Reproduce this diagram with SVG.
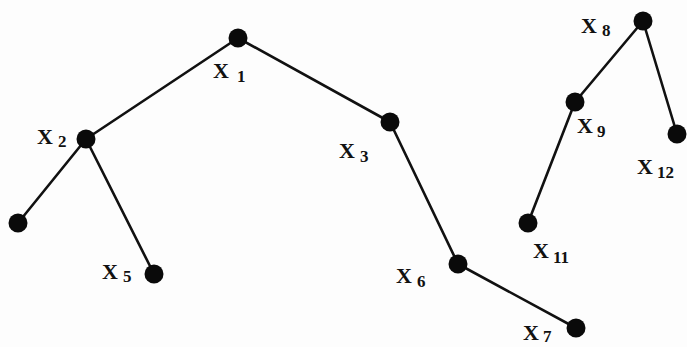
<svg xmlns="http://www.w3.org/2000/svg" width="687" height="347" viewBox="0 0 687 347">
<style>
.edge{stroke:#111;stroke-width:2.6;fill:none;stroke-linecap:round}
.dot{fill:#0a0a0a}
.lbl{font-family:"Liberation Serif","Times New Roman",serif;font-weight:bold;font-size:22px;fill:#111}
.sub{font-size:17px}
</style>
<rect width="687" height="347" fill="#fdfdfd"/>
<g id="connectors">
<line class="edge" x1="238" y1="38" x2="86" y2="139"/>
<line class="edge" x1="238" y1="38" x2="390" y2="122"/>
<line class="edge" x1="86" y1="139" x2="18" y2="223"/>
<line class="edge" x1="86" y1="139" x2="154" y2="274"/>
<line class="edge" x1="390" y1="122" x2="458" y2="264"/>
<line class="edge" x1="458" y1="264" x2="576" y2="328"/>
<line class="edge" x1="643" y1="21" x2="575" y2="102"/>
<line class="edge" x1="643" y1="21" x2="677" y2="134"/>
<line class="edge" x1="575" y1="102" x2="528" y2="223"/>
</g>
<g id="x1"><circle class="dot" cx="238" cy="38" r="9.5"/><text class="lbl" x="213" y="78">X<tspan class="sub" x="237" y="82">1</tspan></text></g>
<g id="x2"><circle class="dot" cx="86" cy="139" r="9.5"/><text class="lbl" x="37" y="144">X<tspan class="sub" x="58" y="147">2</tspan></text></g>
<g id="x4"><circle class="dot" cx="18" cy="223" r="9.5"/></g>
<g id="x5"><circle class="dot" cx="154" cy="274" r="9.5"/><text class="lbl" x="102" y="279">X<tspan class="sub" x="123" y="282">5</tspan></text></g>
<g id="x3"><circle class="dot" cx="390" cy="122" r="9.5"/><text class="lbl" x="339" y="158">X<tspan class="sub" x="360" y="162">3</tspan></text></g>
<g id="x6"><circle class="dot" cx="458" cy="264" r="9.5"/><text class="lbl" x="396" y="283">X<tspan class="sub" x="417" y="287">6</tspan></text></g>
<g id="x7"><circle class="dot" cx="576" cy="328" r="9.5"/><text class="lbl" x="523" y="340">X<tspan class="sub" x="543" y="342">7</tspan></text></g>
<g id="x8"><circle class="dot" cx="643" cy="21" r="9.5"/><text class="lbl" x="581" y="33">X<tspan class="sub" x="602" y="36">8</tspan></text></g>
<g id="x9"><circle class="dot" cx="575" cy="102" r="9.5"/><text class="lbl" x="577" y="133">X<tspan class="sub" x="597" y="137">9</tspan></text></g>
<g id="x11"><circle class="dot" cx="528" cy="223" r="9.5"/><text class="lbl" x="533" y="258">X<tspan class="sub" x="553" y="263">11</tspan></text></g>
<g id="x12"><circle class="dot" cx="677" cy="134" r="9.5"/><text class="lbl" x="637" y="174">X<tspan class="sub" x="657" y="178">12</tspan></text></g>
</svg>
